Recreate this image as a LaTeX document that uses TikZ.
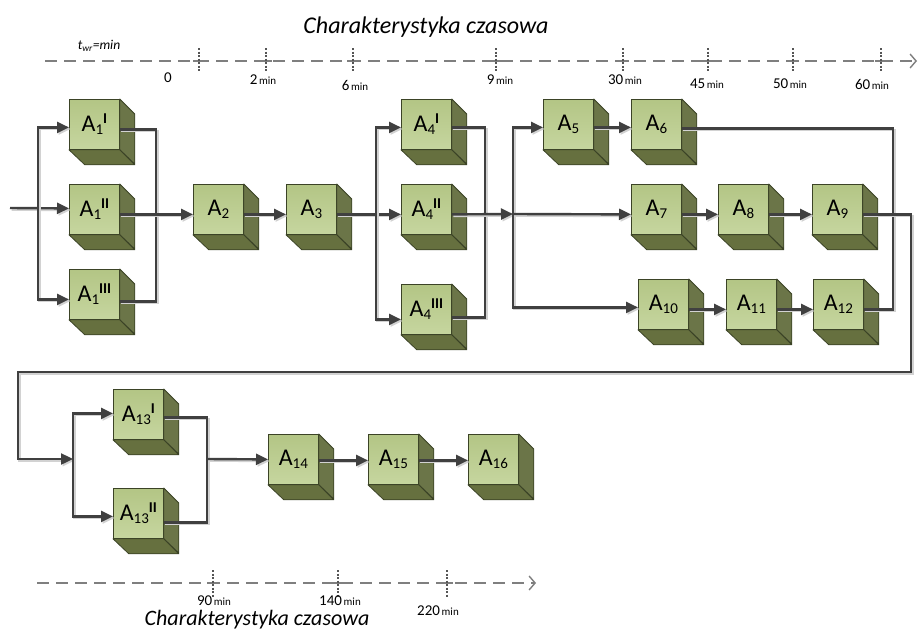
\documentclass[tikz,border=0pt]{standalone}
\usepackage{fontspec}
\setmainfont{Carlito}
\usetikzlibrary{arrows.meta,calc}
\definecolor{fronttop}{HTML}{B3C585}
\definecolor{frontbot}{HTML}{C6D69F}
\definecolor{sidec}{HTML}{6B7548}
\definecolor{botc}{HTML}{66703F}
\definecolor{edgec}{HTML}{3B4326}
\definecolor{linec}{HTML}{404040}
\definecolor{shadc}{HTML}{D2D2D2}
\definecolor{axisc}{HTML}{7F7F7F}
\definecolor{tickc}{HTML}{555555}
\newcommand\albl[2]{\fontsize{24}{24}\selectfont A\raisebox{-3pt}{\fontsize{15}{15}\selectfont #1}\raisebox{8pt}{\fontsize{15}{15}\selectfont\bfseries #2}}
\newcommand\tmin[1]{{\fontsize{15}{15}\selectfont #1}\,{\fontsize{11}{11}\selectfont min}}
\tikzset{
  cube/.style={rectangle, draw=edgec, line width=0.8pt, top color=fronttop, bottom color=frontbot,
    minimum width=50pt, minimum height=50pt, inner sep=0pt, anchor=north west, text=black},
  sidefill/.style={fill=sidec, draw=edgec, line width=0.8pt, line join=round},
  botfill/.style={fill=botc, draw=edgec, line width=0.8pt, line join=round},
  conn/.style={draw=linec, line width=2.4pt, line join=miter,
    preaction={draw=shadc, line width=2.4pt, transform canvas={shift={(1.6pt,-1.6pt)}}}},
  arrc/.style={conn, -{Triangle[length=12pt,width=11pt]}},
  axis/.style={draw=axisc, line width=1.6pt, dash pattern=on 12pt off 7pt},
  axarr/.style={axis, -{Straight Barb[length=6pt,width=14pt,line width=1.4pt]}},
  tickv/.style={draw=tickc, line width=1.1pt, dash pattern=on 2pt off 1.5pt},
  tickh/.style={draw=axisc, line width=1.6pt},
  tlab/.style={inner sep=0pt, text=black},
  ttl/.style={inner sep=0pt, anchor=base, font=\fontsize{24}{24}\selectfont\itshape}
}
\begin{document}
\begin{tikzpicture}[x=1pt,y=-1pt]
\useasboundingbox (0,0) rectangle (919,629);

% titles
\node[ttl] (t1) at (426,33) {Charakterystyka czasowa};
\node[ttl, font=\fontsize{22}{22}\selectfont\itshape] (t2) at (257,625) {Charakterystyka czasowa};
\node[tlab] (tw) at (99,46) {\fontsize{13.5}{13.5}\selectfont\itshape t\textsubscript{wr}=min};

% top time axis
\coordinate (ax1s) at (45,61);
\coordinate (ax1e) at (917,61);
\draw[axarr] (ax1s) -- (ax1e);
\foreach \x in {199,266,353,496,623,708,793,881}{
  \draw[tickh] (\x-6,61) -- (\x+6,61);
  \draw[tickv] (\x,48) -- (\x,72);
}
\node[tlab] (l0) at (168,78) {\fontsize{15}{15}\selectfont 0};
\node[tlab] (l2) at (263,80) {\tmin{2}};
\node[tlab] (l6) at (355,85) {\tmin{6}};
\node[tlab] (l9) at (500,80) {\tmin{9}};
\node[tlab] (l30) at (625,80) {\tmin{30}};
\node[tlab] (l45) at (707,84) {\tmin{45}};
\node[tlab] (l50) at (790,84) {\tmin{50}};
\node[tlab] (l60) at (872,84) {\tmin{60}};

% bottom time axis
\coordinate (ax2s) at (37,583);
\coordinate (ax2e) at (536,583);
\draw[axarr] (ax2s) -- (ax2e);
\foreach \x in {213,338,447}{
  \draw[tickh] (\x-6,583) -- (\x+6,583);
  \draw[tickv] (\x,570) -- (\x,597);
}
\node[tlab] (l90) at (214,601) {\tmin{90}};
\node[tlab] (l140) at (340,601) {\tmin{140}};
\node[tlab] (l220) at (438,611) {\tmin{220}};

% cubes
\node[cube] (a1i)   at (69,99)  {\albl{1}{I}};
\node[cube] (a1ii)  at (69,184) {\albl{1}{II}};
\node[cube] (a1iii) at (69,269) {\albl{1}{III}};
\node[cube] (a2)    at (193,184) {\albl{2}{}};
\node[cube] (a3)    at (286,184) {\albl{3}{}};
\node[cube] (a4i)   at (401,99)  {\albl{4}{I}};
\node[cube] (a4ii)  at (401,184) {\albl{4}{II}};
\node[cube] (a4iii) at (401,284) {\albl{4}{III}};
\node[cube] (a5)    at (543,99)  {\albl{5}{}};
\node[cube] (a6)    at (631,99)  {\albl{6}{}};
\node[cube] (a7)    at (631,184) {\albl{7}{}};
\node[cube] (a8)    at (718,184) {\albl{8}{}};
\node[cube] (a9)    at (812,184) {\albl{9}{}};
\node[cube] (a10)   at (638,279) {\albl{10}{}};
\node[cube] (a11)   at (726,279) {\albl{11}{}};
\node[cube] (a12)   at (813,279) {\albl{12}{}};
\node[cube] (a13i)  at (113,389) {\albl{13}{I}};
\node[cube] (a13ii) at (113,488) {\albl{13}{II}};
\node[cube] (a14)   at (268,434) {\albl{14}{}};
\node[cube] (a15)   at (368,434) {\albl{15}{}};
\node[cube] (a16)   at (468,434) {\albl{16}{}};

\foreach \n in {a1i,a1ii,a1iii,a2,a3,a4i,a4ii,a4iii,a5,a6,a7,a8,a9,a10,a11,a12,a13i,a13ii,a14,a15,a16}{
  \path[sidefill] (\n.north east) -- ++(15,15) -- ++(0,50) -- (\n.south east) -- cycle;
  \path[botfill] (\n.south west) -- (\n.south east) -- ++(15,15) -- ++(-50,0) -- cycle;
}

% ports
\foreach \n/\i/\o in {a1i/3/5, a1ii/-1/5, a1iii/5/7, a2/5/5, a3/5/5, a4i/3/3, a4ii/5/5, a4iii/10/8,
  a5/3/3, a6/3/4, a7/5/5, a8/5/5, a9/5/5, a10/3/5, a11/5/5, a12/5/5,
  a13i/-1/3, a13ii/3/9, a14/0/1, a15/1/1, a16/1/1}{
  \coordinate (\n-in) at ($(\n.west)+(0,\i)$);
  \coordinate (\n-out) at ($(\n.east)+(0,\o)$);
}

% junction points
\coordinate (src) at (10,208);
\coordinate (b1) at (38,208);
\coordinate (m1) at (156,214);
\coordinate (b2) at (376,214);
\coordinate (m2) at (485,214);
\coordinate (b3) at (513,214);
\coordinate (r1) at (893,128);
\coordinate (r2) at (911,372);
\coordinate (l2c) at (18,372);
\coordinate (b4) at (73,459);
\coordinate (m4) at (207,459);

% connectors
\draw[arrc] (src) -- (a1ii-in);
\draw[arrc] (b1) |- (a1i-in);
\draw[arrc] (b1) |- (a1iii-in);
\draw[conn] (a1i-out) -| (m1) |- (a1iii-out);
\draw[arrc] (a1ii-out) -- (a2-in);
\draw[arrc] (a2-out) -- (a3-in);
\draw[arrc] (a3-out) -- (a4ii-in);
\draw[arrc] (b2) |- (a4i-in);
\draw[arrc] (b2) |- (a4iii-in);
\draw[conn] (a4i-out) -| (m2) |- (a4iii-out);
\draw[arrc] (a4ii-out) -- (b3);
\draw[arrc] (b3) |- (a5-in);
\draw[arrc] (b3) -- (a7-in);
\draw[arrc] (b3) |- (a10-in);
\draw[arrc] (a5-out) -- (a6-in);
\draw[arrc] (a7-out) -- (a8-in);
\draw[arrc] (a8-out) -- (a9-in);
\draw[arrc] (a10-out) -- (a11-in);
\draw[arrc] (a11-out) -- (a12-in);
\draw[conn] (a6-out) -| (r1 |- a12-out) -- (a12-out);
\draw[arrc] (a9-out) -| (r2) -- (l2c) |- (b4);
\draw[arrc] (b4) |- (a13i-in);
\draw[arrc] (b4) |- (a13ii-in);
\draw[conn] (a13i-out) -| (m4) |- (a13ii-out);
\draw[arrc] (m4) -- (a14-in);
\draw[arrc] (a14-out) -- (a15-in);
\draw[arrc] (a15-out) -- (a16-in);
\end{tikzpicture}
\end{document}
